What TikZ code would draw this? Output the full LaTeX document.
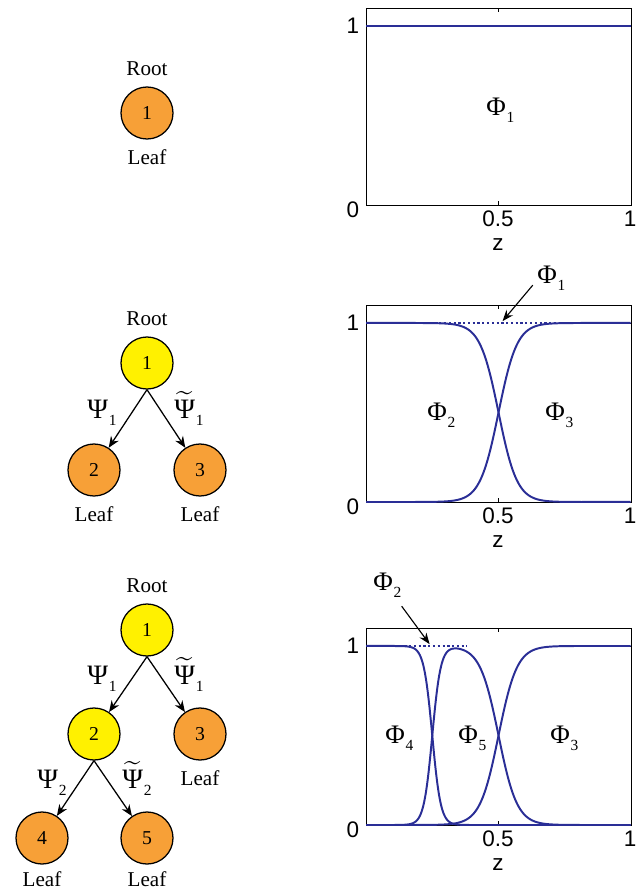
\documentclass[tikz,border=0pt]{standalone}
\usepackage{fontspec}
\setmainfont{Liberation Serif}
\newfontfamily\tickfont{Liberation Sans}
\usepackage{amsmath}
\usetikzlibrary{arrows.meta,positioning,calc}

\definecolor{leaforange}{RGB}{247,160,55}
\definecolor{splityellow}{RGB}{255,241,0}
\definecolor{curveblue}{RGB}{42,46,150}

\newcommand{\gsub}[2]{#1\kern0.6pt\raisebox{-0.28em}{\fontsize{11}{11}\selectfont #2}}
\newcommand{\gtil}[1]{$\widetilde{\mbox{#1}}$}

\begin{document}
\begin{tikzpicture}[
    x=0.025cm, y=-0.025cm,
    declare function={sig(\t)=1/(1+exp(min(9,max(-9,\t))));},
    leafnode/.style={circle, draw=black, line width=0.9pt, fill=leaforange, minimum size=1.3cm, inner sep=0pt, font=\fontsize{14}{14}\selectfont},
    splitnode/.style={leafnode, fill=splityellow},
    tag/.style={font=\fontsize{15}{15}\selectfont},
    edge/.style={-{Stealth[length=8pt,width=6.5pt]}, line width=0.9pt},
    wgt/.style={font=\fontsize{20}{20}\selectfont, anchor=base west, inner sep=0pt},
    phi/.style={font=\fontsize{19}{19}\selectfont, anchor=base west, inner sep=0pt},
    tick/.style={font=\tickfont\fontsize{16}{16}\selectfont},
    frame/.style={black, line width=0.6pt},
    curve/.style={curveblue, line width=1.4pt},
    dots/.style={curveblue, line width=1.4pt, dash pattern=on 1.6pt off 1.8pt},
    pointer/.style={-{Stealth[length=8pt,width=6pt]}, line width=0.8pt}
]
\useasboundingbox (0,0) rectangle (641,888);

% Top tree - one leaf
\node[leafnode] (a1) at (147,113) {1};
\node[tag] (a1root) at ([yshift=1.1cm]a1) {Root};
\node[tag] (a1leaf) at ([yshift=-1.1cm]a1) {Leaf};

% Middle tree - one split
\node[splitnode] (b1) at (147,363) {1};
\node[leafnode] (b2) at (94,470) {2};
\node[leafnode] (b3) at (200,470) {3};
\node[tag] (b1root) at ([yshift=1.1cm]b1) {Root};
\node[tag] (b2leaf) at ([yshift=-1.1cm]b2) {Leaf};
\node[tag] (b3leaf) at ([yshift=-1.1cm]b3) {Leaf};
\draw[edge] (b1.south) -- (b2);
\draw[edge] (b1.south) -- (b3);
\node[wgt] (b1l) at ([shift={(-60,55)}]b1) {\gsub{Ψ}{1}};
\node[wgt] (b1r) at ([shift={(27,55)}]b1) {\gsub{\gtil{Ψ}}{1}};

% Bottom tree - two splits
\node[splitnode] (c1) at (147,630) {1};
\node[splitnode] (c2) at (94,734) {2};
\node[leafnode] (c3) at (200,734) {3};
\node[leafnode] (c4) at (42,838) {4};
\node[leafnode] (c5) at (147,838) {5};
\node[tag] (c1root) at ([yshift=1.1cm]c1) {Root};
\node[tag] (c3leaf) at ([yshift=-1.1cm]c3) {Leaf};
\node[tag] (c4leaf) at ([yshift=-1.02cm]c4) {Leaf};
\node[tag] (c5leaf) at ([yshift=-1.02cm]c5) {Leaf};
\draw[edge] (c1.south) -- (c2);
\draw[edge] (c1.south) -- (c3);
\draw[edge] (c2.south) -- (c4);
\draw[edge] (c2.south) -- (c5);
\node[wgt] (c1l) at ([shift={(-60,54)}]c1) {\gsub{Ψ}{1}};
\node[wgt] (c1r) at ([shift={(27,54)}]c1) {\gsub{\gtil{Ψ}}{1}};
\node[wgt] (c2l) at ([shift={(-57,54)}]c2) {\gsub{Ψ}{2}};
\node[wgt] (c2r) at ([shift={(28,54)}]c2) {\gsub{\gtil{Ψ}}{2}};

% Plot frames and tick labels
\foreach \b/\k in {205/a,502/b,825/c} {
  \draw[frame] (366,\b) rectangle (631,\b-197);
  \draw[frame] (498,\b) -- (498,\b-4) (498,\b-197) -- (498,\b-193);
  \draw[frame] (366,\b-179) -- (370,\b-179) (631,\b-179) -- (627,\b-179);
  \node[tick, anchor=east] (y0\k) at (364,\b+5) {0};
  \node[tick, anchor=east] (y1\k) at (364,\b-179) {1};
  \node[tick] (xh\k) at (498,\b+14) {0.5};
  \node[tick] (x1\k) at (630,\b+14) {1};
  \node[tick] (z\k) at (498,\b+40) {z};
}

% Top plot
\begin{scope}[shift={(366,205)}, x=6.625cm, y=4.475cm]
  \draw[curve] (0,1) -- (1,1);
\end{scope}
\node[phi] (pa1) at (486,115) {\gsub{Φ}{1}};

% Middle plot
\begin{scope}[shift={(366,502)}, x=6.625cm, y=4.475cm]
  \draw[dots] (0.24,1) -- (0.76,1);
  \coordinate (dotb) at (0.515,1.01);
  \draw[curve] plot[domain=0:1, samples=201] (\x, {sig((\x-0.5)/0.035)});
  \draw[curve] plot[domain=0:1, samples=201] (\x, {1-sig((\x-0.5)/0.035)});
\end{scope}
\node[phi] (pb2) at (427,420) {\gsub{Φ}{2}};
\node[phi] (pb3) at (545,420) {\gsub{Φ}{3}};
\node[phi] (pb1) at (537,283) {\gsub{Φ}{1}};
\draw[pointer] ([xshift=-3pt,yshift=4pt]pb1.south west) -- (dotb);

% Bottom plot
\begin{scope}[shift={(366,825)}, x=6.625cm, y=4.475cm]
  \draw[dots] (0,1) -- (0.38,1);
  \coordinate (dotc) at (0.24,1.01);
  \draw[curve] plot[domain=0:1, samples=301] (\x, {sig((\x-0.5)/0.035)*sig((\x-0.25)/0.016)});
  \draw[curve] plot[domain=0:1, samples=301] (\x, {sig((\x-0.5)/0.035)*(1-sig((\x-0.25)/0.016))});
  \draw[curve] plot[domain=0:1, samples=201] (\x, {1-sig((\x-0.5)/0.035)});
\end{scope}
\node[phi] (pc4) at (385,743) {\gsub{Φ}{4}};
\node[phi] (pc5) at (458,743) {\gsub{Φ}{5}};
\node[phi] (pc3) at (550,743) {\gsub{Φ}{3}};
\node[phi] (pc2) at (373,590) {\gsub{Φ}{2}};
\draw[pointer] ([yshift=-6pt]pc2.south east) -- (dotc);

\end{tikzpicture}
\end{document}
